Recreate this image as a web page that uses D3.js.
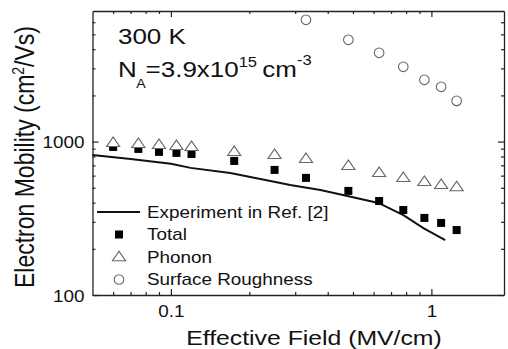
<!DOCTYPE html>
<html>
<head>
<meta charset="utf-8">
<script src="https://cdn.jsdelivr.net/npm/d3@7"></script>
<style>
  body { margin: 0; background: #fff; }
  svg { display: block; font-family: "Liberation Sans", Arial, sans-serif; }
</style>
</head>
<body>
<div id="plot"></div>
<script>
// values
const fieldX    = [0.06, 0.075, 0.09, 0.105, 0.12, 0.175, 0.25, 0.33, 0.48, 0.63, 0.78, 0.94, 1.09, 1.25];
const totalMob  = [923, 896, 857, 844, 831, 748, 654, 580, 477, 410, 358, 318, 295, 265];
const phononMob = [980, 966, 952, 937, 923, 857, 819, 771, 694, 625, 580, 546, 522, 506];
const srField   = [0.33, 0.48, 0.63, 0.78, 0.94, 1.09, 1.25];
const srMob     = [6220, 4607, 3790, 3072, 2527, 2275, 1843];
const expField  = [0.05, 0.07, 0.1, 0.119, 0.169, 0.241, 0.287, 0.375, 0.476, 0.626, 0.781, 0.932, 1.13];
const expMob    = [819, 771, 716, 674, 625, 554, 522, 484, 442, 398, 332, 273, 228];

const xMajor = [0.1, 1];
const xMinor = [0.06, 0.07, 0.08, 0.09, 0.2, 0.3, 0.4, 0.5, 0.6, 0.7, 0.8, 0.9];
const yMajor = [100, 1000];
const yMinor = [200, 300, 400, 500, 600, 700, 800, 900, 2000, 3000, 4000, 5000, 6000];
const legendNames = ["Experiment in Ref. [2]", "Total", "Phonon", "Surface Roughness"];

let svgWidth = 508, svgHeight = 349;
let pLeft = 92.5, pRight = 504, pTop = 11, pBottom = 295;
const SX = 1.18; // picture is stretched sideways

let svg = d3.select('#plot').append('svg')
    .attr('width', svgWidth).attr('height', svgHeight);

let x = d3.scaleLog().domain([0.05, 1.9]).range([pLeft, pRight]);
let y = d3.scaleLog().domain([100, 7100]).range([pBottom, pTop]);

function label(xp, yp, txt, size, anchor) {
    return svg.append('text')
        .attr('transform', `translate(${xp},${yp}) scale(${SX},1)`)
        .attr('text-anchor', anchor || 'start')
        .attr('font-size', size)
        .attr('fill', '#111')
        .text(txt);
}

// axes, ticks pointing inward
function drawAxis(axisFn, scale, pos, vals, size, labels) {
    let g = svg.append('g').attr('transform', pos)
        .call(axisFn(scale).tickValues(vals).tickSizeInner(-size).tickSizeOuter(0)
              .tickFormat(labels ? d3.format('') : '').tickPadding(11));
    g.select('.domain').attr('stroke', labels === null ? 'none' : '#222').attr('stroke-width', 1.3);
    g.selectAll('.tick line').attr('stroke', '#222').attr('stroke-width', 1.2);
    return g;
}
let gb = drawAxis(d3.axisBottom, x, `translate(0,${pBottom})`, xMajor, 6, true);
drawAxis(d3.axisBottom, x, `translate(0,${pBottom})`, xMinor, 3, null);
drawAxis(d3.axisTop, x, `translate(0,${pTop})`, xMajor, 6, false);
drawAxis(d3.axisTop, x, `translate(0,${pTop})`, xMinor, 3, null);
let gl = drawAxis(d3.axisLeft, y, `translate(${pLeft},0)`, yMajor, 6, true);
drawAxis(d3.axisLeft, y, `translate(${pLeft},0)`, yMinor, 3, null);
drawAxis(d3.axisRight, y, `translate(${pRight},0)`, yMajor, 6, false);
drawAxis(d3.axisRight, y, `translate(${pRight},0)`, yMinor, 3, null);

gb.selectAll('.tick text')
    .attr('font-size', 16).attr('font-family', '"Liberation Sans", Arial, sans-serif')
    .attr('fill', '#111').attr('transform', `scale(${SX},1)`);
gl.selectAll('.tick text')
    .attr('font-size', 16).attr('font-family', '"Liberation Sans", Arial, sans-serif')
    .attr('fill', '#111').attr('x', -6.8).attr('dy', '0.38em')
    .attr('transform', `scale(${SX},1)`);

// experiment line
let line = d3.line().x(d => x(d[0])).y(d => y(d[1]));
svg.append('path')
    .datum(d3.zip(expField, expMob))
    .attr('d', line)
    .attr('fill', 'none').attr('stroke', '#111').attr('stroke-width', 2);

let tri = d3.symbol().type(d3.symbolTriangle).size(52);

// total: filled squares
svg.selectAll('rect.total')
    .data(d3.zip(fieldX, totalMob))
    .enter().append('rect')
    .attr('class', 'total')
    .attr('x', d => x(d[0]) - 4).attr('y', d => y(d[1]) - 4)
    .attr('width', 8).attr('height', 8)
    .attr('fill', '#000');

// phonon: open triangles
svg.selectAll('path.phonon')
    .data(d3.zip(fieldX, phononMob))
    .enter().append('path')
    .attr('class', 'phonon')
    .attr('d', tri)
    .attr('transform', d => `translate(${x(d[0])},${y(d[1]) + 0.5}) scale(1.2,1)`)
    .attr('fill', '#fff').attr('stroke', '#666').attr('stroke-width', 1);

// surface roughness: open circles
svg.selectAll('circle.sr')
    .data(d3.zip(srField, srMob))
    .enter().append('circle')
    .attr('class', 'sr')
    .attr('cx', d => x(d[0])).attr('cy', d => y(d[1]))
    .attr('r', 4.8)
    .attr('fill', 'none').attr('stroke', '#666').attr('stroke-width', 1.1);

// legend
const legY = [212, 234.5, 257, 279.5];
svg.append('line').attr('x1', 97).attr('x2', 140).attr('y1', legY[0]).attr('y2', legY[0])
    .attr('stroke', '#111').attr('stroke-width', 2);
svg.append('rect').attr('x', 115).attr('y', legY[1] - 4).attr('width', 8).attr('height', 8).attr('fill', '#000');
svg.append('path').attr('d', tri)
    .attr('transform', `translate(119,${legY[2] + 0.5}) scale(1.2,1)`)
    .attr('fill', '#fff').attr('stroke', '#666');
svg.append('circle').attr('cx', 119).attr('cy', legY[3]).attr('r', 4.8)
    .attr('fill', 'none').attr('stroke', '#666').attr('stroke-width', 1.1);
legendNames.forEach((n, i) => label(147, legY[i] + 5.5, n, 16));

// annotations
label(118, 43.5, '300 K', 22);
svg.append('text')
    .attr('transform', `translate(118,77) scale(${SX},1)`)
    .attr('font-size', 22)
    .attr('fill', '#111')
    .html('N<tspan dx="-0.5" dy="11" font-size="12">A</tspan>' +
          '<tspan dy="-11">=3.9x10</tspan>' +
          '<tspan dy="-10" font-size="14">15</tspan>' +
          '<tspan dx="4.5" dy="10">cm</tspan>' +
          '<tspan dy="-12" font-size="14">-3</tspan>');

// axis titles
label(314, 345, 'Effective Field (MV/cm)', 21, 'middle');
svg.append('text')
    .attr('transform', `translate(33.5,157) rotate(-90) scale(1,${SX})`)
    .attr('text-anchor', 'middle')
    .attr('font-size', 23)
    .attr('fill', '#111')
    .html('Electron Mobility (cm<tspan dy="-8" font-size="14">2</tspan><tspan dy="8">/Vs)</tspan>');
</script>
</body>
</html>
